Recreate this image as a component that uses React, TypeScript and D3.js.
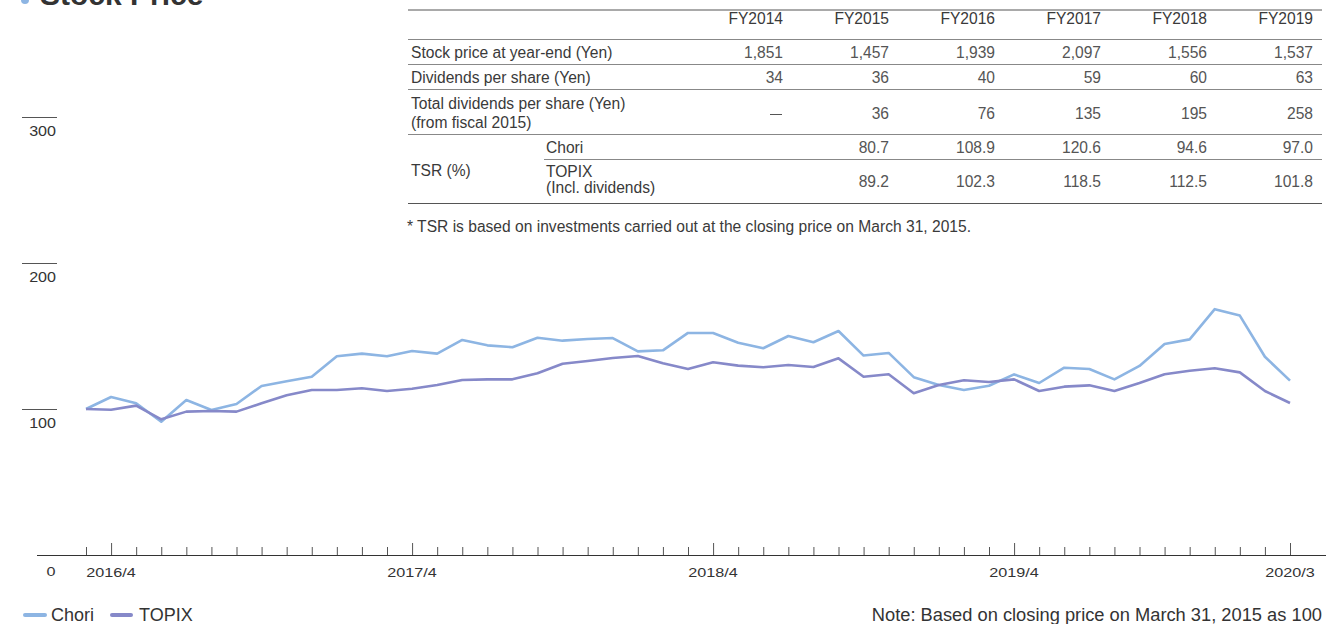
import * as d3 from "d3"

// monthly points, 2016/3 .. 2020/3
const months = [
  "2016/3", "2016/4", "2016/5", "2016/6", "2016/7", "2016/8", "2016/9", "2016/10", "2016/11", "2016/12",
  "2017/1", "2017/2", "2017/3", "2017/4", "2017/5", "2017/6", "2017/7", "2017/8", "2017/9", "2017/10",
  "2017/11", "2017/12", "2018/1", "2018/2", "2018/3", "2018/4", "2018/5", "2018/6", "2018/7", "2018/8",
  "2018/9", "2018/10", "2018/11", "2018/12", "2019/1", "2019/2", "2019/3", "2019/4", "2019/5", "2019/6",
  "2019/7", "2019/8", "2019/9", "2019/10", "2019/11", "2019/12", "2020/1", "2020/2", "2020/3",
]

const chori = [
  100, 108.2, 103.9, 91.3, 106.2, 99.3, 103.4, 115.8, 119.0, 122.1,
  136.1, 137.9, 136.1, 139.7, 137.9, 147.3, 143.6, 142.3, 148.8, 146.8,
  147.9, 148.6, 139.5, 140.2, 152.1, 152.1, 145.4, 141.6, 150.0, 145.7,
  153.4, 136.6, 138.4, 121.8, 116.4, 113.0, 115.9, 123.7, 117.8, 128.3,
  127.4, 120.3, 129.5, 144.5, 147.7, 168.4, 164.0, 135.8, 119.4,
]

const topix = [
  100, 99.5, 102.3, 92.9, 98.2, 98.6, 98.2, 103.9, 109.4, 113.0,
  113.0, 114.2, 112.3, 113.9, 116.4, 119.9, 120.3, 120.3, 124.5, 131.0,
  132.9, 134.9, 136.3, 131.3, 127.4, 132.0, 129.7, 128.6, 130.1, 128.8,
  134.7, 122.1, 123.8, 110.8, 116.4, 119.7, 118.5, 120.3, 112.3, 115.3,
  116.2, 112.3, 117.8, 123.8, 126.2, 127.9, 125.1, 112.3, 104.1,
]

const majorMonths = ["2016/4", "2017/4", "2018/4", "2019/4", "2020/3"]
const yTicks = [100, 200, 300]

// table
const fiscalYears = ["FY2014", "FY2015", "FY2016", "FY2017", "FY2018", "FY2019"]
const stockPrice = ["1,851", "1,457", "1,939", "2,097", "1,556", "1,537"]
const dividends = ["34", "36", "40", "59", "60", "63"]
const totalDividends = ["—", "36", "76", "135", "195", "258"]
const tsrChori = ["", "80.7", "108.9", "120.6", "94.6", "97.0"]
const tsrTopix = ["", "89.2", "102.3", "118.5", "112.5", "101.8"]

const CHORI = "#8db5e3"
const TOPIX = "#8689c9"
const FONT = "'Liberation Sans', Arial, Helvetica, sans-serif"

function Table() {
  const colX = d3.scaleLinear().domain([0, 5]).range([783, 1313])
  const left = 408
  const right = 1322
  const lab = "#3a3a3a"
  const num = "#555"
  return (
    <g fontFamily={FONT} fontSize={15.6}>
      <line x1={left} x2={right} y1={10} y2={10} stroke="#555" />
      {fiscalYears.map((f, i) => (
        <text key={f} x={colX(i)} y={24} textAnchor="end" fill={lab}>{f}</text>
      ))}
      <line x1={left} x2={right} y1={39.5} y2={39.5} stroke="#888" />
      <text x={411} y={58} fill={lab}>Stock price at year-end (Yen)</text>
      {stockPrice.map((v, i) => (
        <text key={i} x={colX(i)} y={58} textAnchor="end" fill={num}>{v}</text>
      ))}
      <line x1={left} x2={right} y1={64.5} y2={64.5} stroke="#888" />
      <text x={411} y={83} fill={lab}>Dividends per share (Yen)</text>
      {dividends.map((v, i) => (
        <text key={i} x={colX(i)} y={83} textAnchor="end" fill={num}>{v}</text>
      ))}
      <line x1={left} x2={right} y1={89.5} y2={89.5} stroke="#888" />
      <text x={411} y={109} fill={lab}>Total dividends per share (Yen)</text>
      <text x={411} y={128} fill={lab}>(from fiscal 2015)</text>
      {totalDividends.map((v, i) =>
        v === "—" ? (
          <line key={i} x1={colX(i) - 13} x2={colX(i) - 1} y1={114.5} y2={114.5} stroke={num} />
        ) : (
          <text key={i} x={colX(i)} y={119} textAnchor="end" fill={num}>{v}</text>
        )
      )}
      <line x1={left} x2={right} y1={134.5} y2={134.5} stroke="#888" />
      <text x={411} y={176} fill={lab}>TSR (%)</text>
      <text x={546} y={153} fill={lab}>Chori</text>
      {tsrChori.map((v, i) => (
        <text key={i} x={colX(i)} y={153} textAnchor="end" fill={num}>{v}</text>
      ))}
      <line x1={544} x2={right} y1={159.5} y2={159.5} stroke="#888" />
      <text x={546} y={177} fill={lab}>TOPIX</text>
      <text x={546} y={193} fill={lab}>(Incl. dividends)</text>
      {tsrTopix.map((v, i) => (
        <text key={i} x={colX(i)} y={187} textAnchor="end" fill={num}>{v}</text>
      ))}
      <line x1={left} x2={right} y1={203.5} y2={203.5} stroke="#555" />
      <text x={407} y={232} fill={lab}>* TSR is based on investments carried out at the closing price on March 31, 2015.</text>
    </g>
  )
}

export default function App() {
  const width = 1326
  const height = 624
  const x = d3.scaleLinear().domain([0, months.length - 1]).range([86, 1290])
  const y = d3.scaleLinear().domain([0, 300]).range([555, 117])
  const line = d3
    .line<number>()
    .x((_, i) => x(i))
    .y((d) => y(d))

  return (
    <div style={{ position: "absolute", left: 0, top: 0 }}>
      <svg width={width} height={height} style={{ display: "block" }}>
        {/* title, mostly cut off at the top */}
        <circle cx={25} cy={0} r={4} fill={CHORI} />
        <text x={40} y={5} fontFamily={FONT} fontSize={30} fontWeight="bold" fill="#333">Stock Price</text>

        <Table />

        {/* y ticks */}
        {yTicks.map((t) => (
          <g key={t}>
            <line x1={22} x2={57} y1={y(t) + 0.5} y2={y(t) + 0.5} stroke="#555" />
            <text
              transform={`translate(56,${y(t) + 19}) scale(1.15,1)`}
              textAnchor="end"
              fontFamily={FONT}
              fontSize={14}
              fill="#333"
            >
              {t}
            </text>
          </g>
        ))}

        {/* x axis */}
        <line x1={37} x2={width} y1={555.5} y2={555.5} stroke="#333" />
        {months.map((m, i) => {
          const major = majorMonths.includes(m)
          return (
            <line
              key={m}
              x1={x(i) + 0.5}
              x2={x(i) + 0.5}
              y1={555}
              y2={major ? 543 : 547}
              stroke="#555"
            />
          )
        })}
        {months.map((m, i) =>
          majorMonths.includes(m) ? (
            <text
              key={m}
              transform={`translate(${x(i)},577) scale(1.2,1)`}
              textAnchor="middle"
              fontFamily={FONT}
              fontSize={13.5}
              fill="#333"
            >
              {m}
            </text>
          ) : null
        )}
        <text transform="translate(51,576) scale(1.2,1)" textAnchor="middle" fontFamily={FONT} fontSize={13.5} fill="#333">0</text>

        {/* series */}
        <path d={line(chori) ?? ""} fill="none" stroke={CHORI} strokeWidth={2.6} strokeLinejoin="round" />
        <path d={line(topix) ?? ""} fill="none" stroke={TOPIX} strokeWidth={2.6} strokeLinejoin="round" />

        {/* legend */}
        <g fontFamily={FONT} fontSize={18} fill="#333">
          <line x1={25} x2={45} y1={615} y2={615} stroke={CHORI} strokeWidth={4} strokeLinecap="round" />
          <text x={51} y={621}>Chori</text>
          <line x1={112} x2={131} y1={615} y2={615} stroke={TOPIX} strokeWidth={4} strokeLinecap="round" />
          <text x={139} y={621}>TOPIX</text>
          <text x={1322} y={621} textAnchor="end" fontSize={18.3}>Note: Based on closing price on March 31, 2015 as 100</text>
        </g>
      </svg>
    </div>
  )
}
